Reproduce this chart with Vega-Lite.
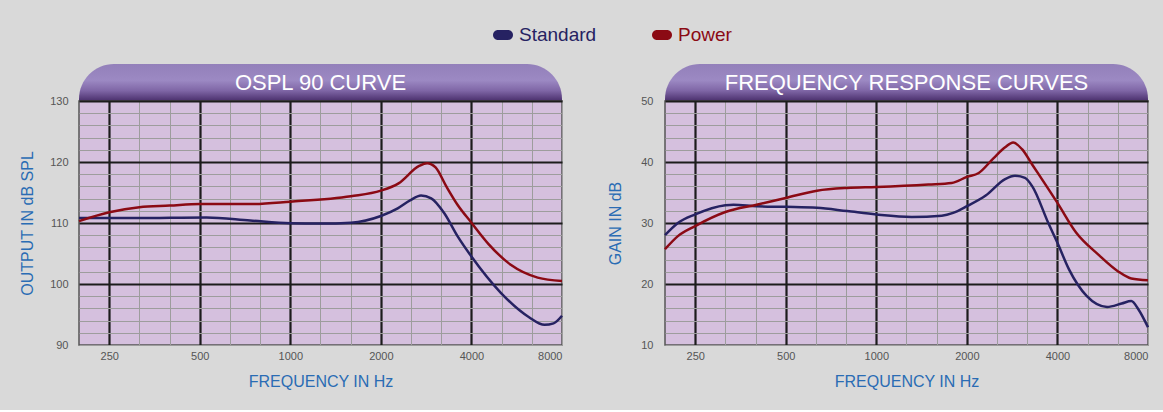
{
  "$schema": "https://vega.github.io/schema/vega-lite/v6.json",
  "background": "#d9d9d9",
  "padding": {"left": 18, "top": 25, "right": 15, "bottom": 20},
  "spacing": 39,
  "config": {
    "font": "Liberation Sans",
    "view": {"stroke": null},
    "axis": {
      "labelFont": "Liberation Sans",
      "labelFontSize": 11,
      "labelColor": "#555555",
      "titleFont": "Liberation Sans",
      "titleFontSize": 16,
      "titleFontWeight": "normal",
      "titleColor": "#2a6cb4",
      "ticks": false,
      "domain": false,
      "gridOpacity": 1,
      "labelOverlap": false
    }
  },
  "datasets": {
    "ospl": [
      {"freq": 198.43, "db": 110.8, "series": "Standard"},
      {"freq": 250, "db": 110.8, "series": "Standard"},
      {"freq": 315, "db": 110.8, "series": "Standard"},
      {"freq": 400, "db": 110.85, "series": "Standard"},
      {"freq": 526, "db": 110.9, "series": "Standard"},
      {"freq": 735, "db": 110.4, "series": "Standard"},
      {"freq": 1000, "db": 109.95, "series": "Standard"},
      {"freq": 1260, "db": 109.9, "series": "Standard"},
      {"freq": 1590, "db": 110.05, "series": "Standard"},
      {"freq": 2000, "db": 111.15, "series": "Standard"},
      {"freq": 2275, "db": 112.4, "series": "Standard"},
      {"freq": 2500, "db": 113.7, "series": "Standard"},
      {"freq": 2720, "db": 114.5, "series": "Standard"},
      {"freq": 2940, "db": 114.05, "series": "Standard"},
      {"freq": 3250, "db": 111.6, "series": "Standard"},
      {"freq": 3600, "db": 107.8, "series": "Standard"},
      {"freq": 4000, "db": 104.5, "series": "Standard"},
      {"freq": 5000, "db": 98.6, "series": "Standard"},
      {"freq": 6200, "db": 94.6, "series": "Standard"},
      {"freq": 7000, "db": 93.3, "series": "Standard"},
      {"freq": 7500, "db": 93.55, "series": "Standard"},
      {"freq": 8000, "db": 94.8, "series": "Standard"},
      {"freq": 198.43, "db": 110.3, "series": "Power"},
      {"freq": 250, "db": 111.75, "series": "Power"},
      {"freq": 315, "db": 112.6, "series": "Power"},
      {"freq": 397, "db": 112.85, "series": "Power"},
      {"freq": 500, "db": 113.1, "series": "Power"},
      {"freq": 735, "db": 113.1, "series": "Power"},
      {"freq": 1000, "db": 113.5, "series": "Power"},
      {"freq": 1590, "db": 114.4, "series": "Power"},
      {"freq": 2000, "db": 115.3, "series": "Power"},
      {"freq": 2290, "db": 116.5, "series": "Power"},
      {"freq": 2680, "db": 119.35, "series": "Power"},
      {"freq": 2850, "db": 119.8, "series": "Power"},
      {"freq": 3040, "db": 119.1, "series": "Power"},
      {"freq": 3300, "db": 116.0, "series": "Power"},
      {"freq": 3600, "db": 112.95, "series": "Power"},
      {"freq": 4000, "db": 110.05, "series": "Power"},
      {"freq": 4560, "db": 106.55, "series": "Power"},
      {"freq": 5420, "db": 103.1, "series": "Power"},
      {"freq": 6640, "db": 101.05, "series": "Power"},
      {"freq": 8000, "db": 100.5, "series": "Power"}
    ],
    "fr": [
      {"freq": 198.43, "db": 28.0, "series": "Standard"},
      {"freq": 219, "db": 30.0, "series": "Standard"},
      {"freq": 250, "db": 31.4, "series": "Standard"},
      {"freq": 315, "db": 32.9, "series": "Standard"},
      {"freq": 335, "db": 33.0, "series": "Standard"},
      {"freq": 400, "db": 32.75, "series": "Standard"},
      {"freq": 500, "db": 32.65, "series": "Standard"},
      {"freq": 635, "db": 32.5, "series": "Standard"},
      {"freq": 800, "db": 31.95, "series": "Standard"},
      {"freq": 1000, "db": 31.4, "series": "Standard"},
      {"freq": 1310, "db": 31.0, "series": "Standard"},
      {"freq": 1650, "db": 31.2, "series": "Standard"},
      {"freq": 1800, "db": 31.65, "series": "Standard"},
      {"freq": 2000, "db": 32.75, "series": "Standard"},
      {"freq": 2310, "db": 34.5, "series": "Standard"},
      {"freq": 2680, "db": 37.2, "series": "Standard"},
      {"freq": 2890, "db": 37.75, "series": "Standard"},
      {"freq": 3120, "db": 37.4, "series": "Standard"},
      {"freq": 3300, "db": 36.0, "series": "Standard"},
      {"freq": 3730, "db": 30.0, "series": "Standard"},
      {"freq": 4000, "db": 26.75, "series": "Standard"},
      {"freq": 4370, "db": 22.4, "series": "Standard"},
      {"freq": 5000, "db": 18.05, "series": "Standard"},
      {"freq": 5850, "db": 16.25, "series": "Standard"},
      {"freq": 6540, "db": 16.8, "series": "Standard"},
      {"freq": 7040, "db": 17.2, "series": "Standard"},
      {"freq": 7420, "db": 15.9, "series": "Standard"},
      {"freq": 8000, "db": 12.9, "series": "Standard"},
      {"freq": 198.43, "db": 25.7, "series": "Power"},
      {"freq": 219, "db": 27.85, "series": "Power"},
      {"freq": 250, "db": 29.5, "series": "Power"},
      {"freq": 315, "db": 31.8, "series": "Power"},
      {"freq": 400, "db": 33.0, "series": "Power"},
      {"freq": 500, "db": 34.1, "series": "Power"},
      {"freq": 635, "db": 35.3, "series": "Power"},
      {"freq": 800, "db": 35.75, "series": "Power"},
      {"freq": 1000, "db": 35.9, "series": "Power"},
      {"freq": 1490, "db": 36.3, "series": "Power"},
      {"freq": 1780, "db": 36.55, "series": "Power"},
      {"freq": 2000, "db": 37.55, "series": "Power"},
      {"freq": 2190, "db": 38.2, "series": "Power"},
      {"freq": 2450, "db": 40.6, "series": "Power"},
      {"freq": 2680, "db": 42.4, "series": "Power"},
      {"freq": 2850, "db": 43.2, "series": "Power"},
      {"freq": 3050, "db": 42.1, "series": "Power"},
      {"freq": 3300, "db": 39.55, "series": "Power"},
      {"freq": 3730, "db": 35.6, "series": "Power"},
      {"freq": 4000, "db": 33.3, "series": "Power"},
      {"freq": 4620, "db": 28.4, "series": "Power"},
      {"freq": 5460, "db": 24.85, "series": "Power"},
      {"freq": 6350, "db": 22.1, "series": "Power"},
      {"freq": 7040, "db": 20.9, "series": "Power"},
      {"freq": 8000, "db": 20.6, "series": "Power"}
    ]
  },
  "hconcat": [
    {
      "spacing": 0,
      "bounds": "flush",
      "vconcat": [
        {
          "width": 483,
          "height": 37,
          "data": {"values": [{"title": "OSPL 90 CURVE"}]},
          "layer": [
            {
              "mark": {
                "type": "rect",
                "cornerRadiusTopLeft": 35,
                "cornerRadiusTopRight": 35,
                "color": {
                  "gradient": "linear", "x1": 0, "y1": 0, "x2": 0, "y2": 1,
                  "stops": [
                    {"offset": 0, "color": "#9380ba"},
                    {"offset": 0.22, "color": "#9c89c3"},
                    {"offset": 0.36, "color": "#7f66a6"},
                    {"offset": 0.5, "color": "#4a2f6c"},
                    {"offset": 1, "color": "#4a2f6c"}
                  ]
                }
              },
              "encoding": {
                "y": {"datum": 1, "type": "quantitative", "scale": {"domain": [0, 1]}, "axis": null},
                "y2": {"datum": -1}
              }
            },
            {
              "mark": {"type": "text", "color": "white", "fontSize": 22, "font": "Liberation Sans"},
              "encoding": {"text": {"field": "title"}}
            }
          ]
        },
        {
          "width": 483,
          "height": 244,
          "view": {"fill": "#d5c0de", "stroke": "#555555", "strokeWidth": 1.5},
          "data": {"name": "ospl"},
          "mark": {"type": "line", "interpolate": "monotone", "strokeWidth": 2.5},
          "encoding": {
            "x": {
              "field": "freq", "type": "quantitative",
              "scale": {"type": "log", "domain": [198.43, 8000], "nice": false},
              "axis": {
                "values": [250, 314.98, 396.85, 500, 629.96, 793.7, 1000, 1259.92, 1587.4, 2000, 2519.84, 3174.8, 4000, 5039.68, 6349.6, 8000],
                "labelExpr": "indexof([250,500,1000,2000,4000,8000], datum.value) >= 0 ? format(datum.value, 'd') : ''",
                "labelFlush": true,
                "labelPadding": 5,
                "grid": true,
                "gridColor": {"condition": {"test": "indexof([250,500,1000,2000,4000], datum.value) >= 0", "value": "#1c1c1c"}, "value": "#9d9d9d"},
                "gridWidth": {"condition": {"test": "indexof([250,500,1000,2000,4000], datum.value) >= 0", "value": 2.2}, "value": 1},
                "title": "FREQUENCY IN Hz",
                "titlePadding": 12
              }
            },
            "y": {
              "field": "db", "type": "quantitative",
              "scale": {"domain": [90, 130], "nice": false, "zero": false},
              "axis": {
                "values": [90, 92, 94, 96, 98, 100, 102, 104, 106, 108, 110, 112, 114, 116, 118, 120, 122, 124, 126, 128, 130],
                "labelExpr": "datum.value % 10 === 0 ? datum.label : ''",
                "labelPadding": 11,
                "grid": true,
                "gridColor": {"condition": {"test": "datum.value % 10 === 0 && datum.value > 90", "value": "#1c1c1c"}, "value": "#9d9d9d"},
                "gridWidth": {"condition": {"test": "datum.value % 10 === 0 && datum.value > 90", "value": 2.2}, "value": 1},
                "title": "OUTPUT IN dB SPL",
                "titlePadding": 14
              }
            },
            "color": {
              "field": "series", "type": "nominal",
              "scale": {"domain": ["Standard", "Power"], "range": ["#262262", "#8b0a14"]},
              "legend": {
                "title": null,
                "orient": "none",
                "legendX": 414,
                "legendY": -39,
                "direction": "horizontal",
                "symbolType": "M-0.5,-0.5 L0.5,-0.5 A0.5,0.5 0 0 1 0.5,0.5 L-0.5,0.5 A0.5,0.5 0 0 1 -0.5,-0.5 Z",
                "symbolSize": 400,
                "labelFontSize": 19,
                "labelFont": "Liberation Sans",
                "labelOffset": 6,
                "columnPadding": 55,
                "encode": {
                  "symbols": {"update": {"fill": {"scale": "color", "field": "value"}, "strokeWidth": {"value": 0}, "opacity": {"value": 1}}},
                  "labels": {"update": {"fill": {"scale": "color", "field": "value"}}}
                }
              }
            }
          }
        }
      ]
    },
    {
      "spacing": 0,
      "bounds": "flush",
      "vconcat": [
        {
          "width": 483,
          "height": 37,
          "data": {"values": [{"title": "FREQUENCY RESPONSE CURVES"}]},
          "layer": [
            {
              "mark": {
                "type": "rect",
                "cornerRadiusTopLeft": 35,
                "cornerRadiusTopRight": 35,
                "color": {
                  "gradient": "linear", "x1": 0, "y1": 0, "x2": 0, "y2": 1,
                  "stops": [
                    {"offset": 0, "color": "#9380ba"},
                    {"offset": 0.22, "color": "#9c89c3"},
                    {"offset": 0.36, "color": "#7f66a6"},
                    {"offset": 0.5, "color": "#4a2f6c"},
                    {"offset": 1, "color": "#4a2f6c"}
                  ]
                }
              },
              "encoding": {
                "y": {"datum": 1, "type": "quantitative", "scale": {"domain": [0, 1]}, "axis": null},
                "y2": {"datum": -1}
              }
            },
            {
              "mark": {"type": "text", "color": "white", "fontSize": 22, "font": "Liberation Sans"},
              "encoding": {"text": {"field": "title"}}
            }
          ]
        },
        {
          "width": 483,
          "height": 244,
          "view": {"fill": "#d5c0de", "stroke": "#555555", "strokeWidth": 1.5},
          "data": {"name": "fr"},
          "mark": {"type": "line", "interpolate": "monotone", "strokeWidth": 2.5},
          "encoding": {
            "x": {
              "field": "freq", "type": "quantitative",
              "scale": {"type": "log", "domain": [198.43, 8000], "nice": false},
              "axis": {
                "values": [250, 314.98, 396.85, 500, 629.96, 793.7, 1000, 1259.92, 1587.4, 2000, 2519.84, 3174.8, 4000, 5039.68, 6349.6, 8000],
                "labelExpr": "indexof([250,500,1000,2000,4000,8000], datum.value) >= 0 ? format(datum.value, 'd') : ''",
                "labelFlush": true,
                "labelPadding": 5,
                "grid": true,
                "gridColor": {"condition": {"test": "indexof([250,500,1000,2000,4000], datum.value) >= 0", "value": "#1c1c1c"}, "value": "#9d9d9d"},
                "gridWidth": {"condition": {"test": "indexof([250,500,1000,2000,4000], datum.value) >= 0", "value": 2.2}, "value": 1},
                "title": "FREQUENCY IN Hz",
                "titlePadding": 12
              }
            },
            "y": {
              "field": "db", "type": "quantitative",
              "scale": {"domain": [10, 50], "nice": false, "zero": false},
              "axis": {
                "values": [10, 12, 14, 16, 18, 20, 22, 24, 26, 28, 30, 32, 34, 36, 38, 40, 42, 44, 46, 48, 50],
                "labelExpr": "datum.value % 10 === 0 ? datum.label : ''",
                "labelPadding": 12,
                "grid": true,
                "gridColor": {"condition": {"test": "datum.value % 10 === 0 && datum.value > 10", "value": "#1c1c1c"}, "value": "#9d9d9d"},
                "gridWidth": {"condition": {"test": "datum.value % 10 === 0 && datum.value > 10", "value": 2.2}, "value": 1},
                "title": "GAIN IN dB",
                "titlePadding": 17
              }
            },
            "color": {
              "field": "series", "type": "nominal",
              "scale": {"domain": ["Standard", "Power"], "range": ["#262262", "#8b0a14"]},
              "legend": {
                "title": null,
                "orient": "none",
                "legendX": 414,
                "legendY": -39,
                "direction": "horizontal",
                "symbolType": "M-0.5,-0.5 L0.5,-0.5 A0.5,0.5 0 0 1 0.5,0.5 L-0.5,0.5 A0.5,0.5 0 0 1 -0.5,-0.5 Z",
                "symbolSize": 400,
                "labelFontSize": 19,
                "labelFont": "Liberation Sans",
                "labelOffset": 6,
                "columnPadding": 55,
                "encode": {
                  "symbols": {"update": {"fill": {"scale": "color", "field": "value"}, "strokeWidth": {"value": 0}, "opacity": {"value": 1}}},
                  "labels": {"update": {"fill": {"scale": "color", "field": "value"}}}
                }
              }
            }
          }
        }
      ]
    }
  ]
}
